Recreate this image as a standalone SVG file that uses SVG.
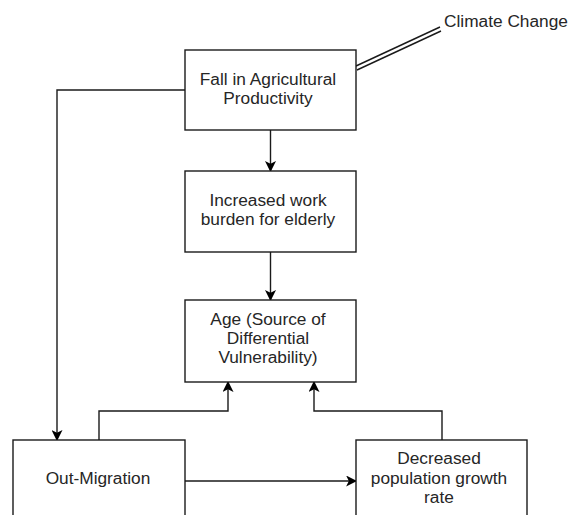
<svg xmlns="http://www.w3.org/2000/svg" width="571" height="515" viewBox="0 0 571 515">
  <style>
    .box { fill: #ffffff; stroke: #1a1a1a; stroke-width: 1.4; }
    .edge { fill: none; stroke: #1a1a1a; stroke-width: 1.4; }
    .lbl { font-family: "Liberation Sans", Arial, sans-serif; font-size: 17.3px; fill: #262626; text-anchor: middle; }
  </style>
  <defs>
    <marker id="arrow" viewBox="0 0 10 10" refX="9" refY="5" markerWidth="11" markerHeight="11" markerUnits="userSpaceOnUse" orient="auto">
      <path d="M0,0 L10,5 L0,10 L2.5,5 Z" fill="#000000"/>
    </marker>
  </defs>
  <rect width="571" height="515" fill="#ffffff"/>

  <g id="connectors">
    <!-- climate change double line -->
    <line class="edge" x1="356" y1="66" x2="440" y2="27"/>
    <line class="edge" x1="357" y1="70" x2="441" y2="31"/>
    <path class="edge" d="M185,90 H57 V440" marker-end="url(#arrow)"/>
    <path class="edge" d="M270.5,130 V171" marker-end="url(#arrow)"/>
    <path class="edge" d="M270.5,252 V300" marker-end="url(#arrow)"/>
    <path class="edge" d="M99,440 V411 H228 V382" marker-end="url(#arrow)"/>
    <path class="edge" d="M442,440 V411 H314 V382" marker-end="url(#arrow)"/>
    <path class="edge" d="M185,481 H356" marker-end="url(#arrow)"/>
  </g>

  <g id="climate">
    <text class="lbl" x="444" y="27" style="text-anchor:start">Climate Change</text>
  </g>

  <g id="fall">
    <rect class="box" x="185" y="50" width="171" height="80"/>
    <text class="lbl" x="268" y="85">Fall in Agricultural</text>
    <text class="lbl" x="268" y="104">Productivity</text>
  </g>

  <g id="burden">
    <rect class="box" x="185" y="171" width="171" height="81"/>
    <text class="lbl" x="268" y="206">Increased work</text>
    <text class="lbl" x="268" y="225">burden for elderly</text>
  </g>

  <g id="age">
    <rect class="box" x="185" y="300" width="171" height="82"/>
    <text class="lbl" x="268" y="325">Age (Source of</text>
    <text class="lbl" x="268" y="344">Differential</text>
    <text class="lbl" x="268" y="363">Vulnerability)</text>
  </g>

  <g id="migration">
    <rect class="box" x="13" y="440" width="172" height="90"/>
    <text class="lbl" x="98" y="484">Out-Migration</text>
  </g>

  <g id="population">
    <rect class="box" x="356" y="440" width="171" height="90"/>
    <text class="lbl" x="439" y="464">Decreased</text>
    <text class="lbl" x="439" y="484">population growth</text>
    <text class="lbl" x="439" y="503">rate</text>
  </g>
</svg>
